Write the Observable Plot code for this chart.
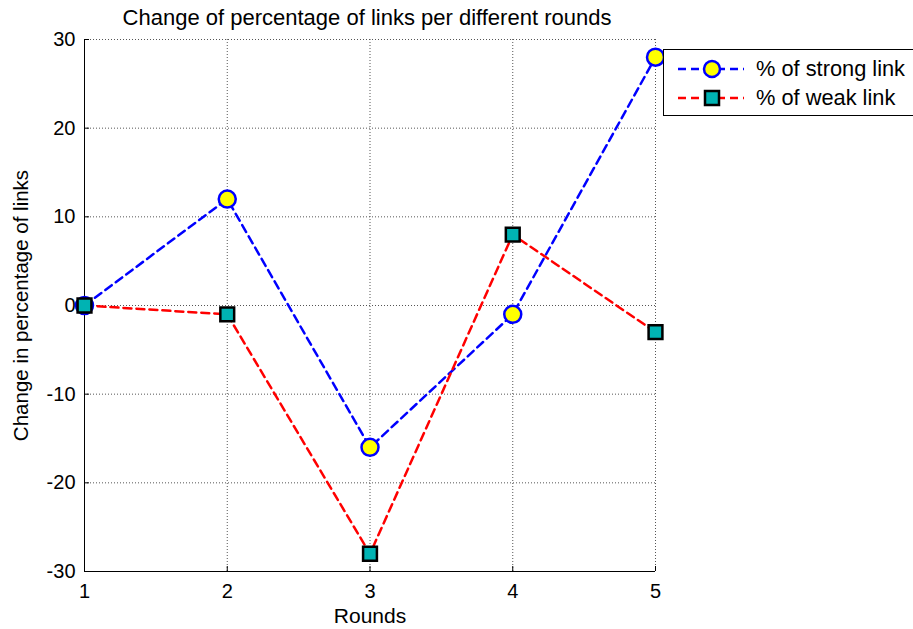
<!DOCTYPE html>
<html><head><meta charset="utf-8">
<script src="https://cdn.jsdelivr.net/npm/d3@7"></script>
<script src="https://cdn.jsdelivr.net/npm/@observablehq/plot@0.6"></script>
<style>
body{margin:0;background:#fff;font-family:"Liberation Sans",Arial,sans-serif;}
#wrap{position:relative;width:913px;height:629px;overflow:hidden;}
#legend{position:absolute;left:663px;top:49px;width:270px;height:67px;border:1px solid #000;background:#fff;box-sizing:border-box;}
</style></head>
<body><div id="wrap"></div>
<script>
const rounds = [1, 2, 3, 4, 5];
const strong = [0, 12, -16, -1, 28];
const weak = [0, -1, -28, 8, -3];
const xTicks = [1, 2, 3, 4, 5];
const yTicks = [-30, -20, -10, 0, 10, 20, 30];
const seriesNames = ["% of strong link", "% of weak link"];
const titleText = "Change of percentage of links per different rounds";
const xLabel = "Rounds";
const yLabel = "Change in percentage of links";

const sData = rounds.map((r, i) => ({r, v: strong[i]}));
const wData = rounds.map((r, i) => ({r, v: weak[i]}));
const FONT = "Liberation Sans, Arial, sans-serif";

const chart = Plot.plot({
  width: 913, height: 629,
  marginLeft: 84, marginRight: 258, marginTop: 39, marginBottom: 58,
  style: {fontFamily: FONT, fontSize: "20px", background: "#fff", color: "#000", overflow: "visible"},
  x: {domain: [1, 5], ticks: xTicks, label: null},
  y: {domain: [-30, 30], ticks: yTicks, label: null},
  marks: [
    Plot.gridX(xTicks, {stroke: "#555", strokeOpacity: 1, strokeWidth: 1, strokeDasharray: "1,2"}),
    Plot.gridY(yTicks, {stroke: "#555", strokeOpacity: 1, strokeWidth: 1, strokeDasharray: "1,2"}),
    Plot.ruleX([1], {stroke: "#000", strokeWidth: 1}),
    Plot.ruleY([-30], {stroke: "#000", strokeWidth: 1}),
    Plot.axisX(xTicks, {tickSize: -5, tickPadding: 17, fontSize: 20, stroke: "#000", tickFormat: d => String(d)}),
    Plot.axisY(yTicks, {tickSize: -5, tickPadding: 14, fontSize: 20, stroke: "#000", tickFormat: d => String(d)}),
    Plot.line(sData, {x: "r", y: "v", stroke: "#0000ff", strokeWidth: 2.5, strokeDasharray: "8,5"}),
    Plot.line(wData, {x: "r", y: "v", stroke: "#ff0000", strokeWidth: 2.5, strokeDasharray: "8,5"}),
    Plot.dot(sData, {x: "r", y: "v", r: 8.5, fill: "#ffff00", stroke: "#0000ff", strokeWidth: 2.5}),
    Plot.dot(wData, {x: "r", y: "v", symbol: "square", r: 7.8, fill: "#00b3b3", stroke: "#000", strokeWidth: 2.5}),
    Plot.text([titleText], {frameAnchor: "top", lineAnchor: "middle", dy: -22, dx: -3, fontSize: 22}),
    Plot.text([xLabel], {frameAnchor: "bottom", lineAnchor: "middle", dy: 45, fontSize: 21}),
    Plot.text([yLabel], {frameAnchor: "left", textAnchor: "middle", lineAnchor: "middle", dx: -63, rotate: -90, fontSize: 20.5})
  ]
});
const wrap = document.getElementById("wrap");
wrap.appendChild(chart);

// legend
const leg = document.createElement("div");
leg.id = "legend";
const ns = "http://www.w3.org/2000/svg";
const svg = document.createElementNS(ns, "svg");
svg.setAttribute("width", 270); svg.setAttribute("height", 67);
svg.style.display = "block";
const specs = [
  {name: seriesNames[0], stroke: "#0000ff", sym: "circle", y: 19},
  {name: seriesNames[1], stroke: "#ff0000", sym: "square", y: 48}
];
for (const s of specs) {
  const l = document.createElementNS(ns, "line");
  l.setAttribute("x1", 14); l.setAttribute("x2", 80); l.setAttribute("y1", s.y); l.setAttribute("y2", s.y);
  l.setAttribute("stroke", s.stroke); l.setAttribute("stroke-width", 2.5); l.setAttribute("stroke-dasharray", "8,5");
  svg.appendChild(l);
  if (s.sym === "circle") {
    const c = document.createElementNS(ns, "circle");
    c.setAttribute("cx", 48); c.setAttribute("cy", s.y); c.setAttribute("r", 8);
    c.setAttribute("fill", "#ffff00"); c.setAttribute("stroke", "#0000ff"); c.setAttribute("stroke-width", 2.5);
    svg.appendChild(c);
  } else {
    const r = document.createElementNS(ns, "rect");
    r.setAttribute("x", 41); r.setAttribute("y", s.y - 7); r.setAttribute("width", 14); r.setAttribute("height", 14);
    r.setAttribute("fill", "#00b3b3"); r.setAttribute("stroke", "#000"); r.setAttribute("stroke-width", 2.5);
    svg.appendChild(r);
  }
  const t = document.createElementNS(ns, "text");
  t.setAttribute("x", 92); t.setAttribute("y", s.y + 7);
  t.setAttribute("font-size", 21.8); t.setAttribute("font-family", FONT);
  t.textContent = s.name;
  svg.appendChild(t);
}
leg.appendChild(svg);
wrap.appendChild(leg);
</script></body></html>
